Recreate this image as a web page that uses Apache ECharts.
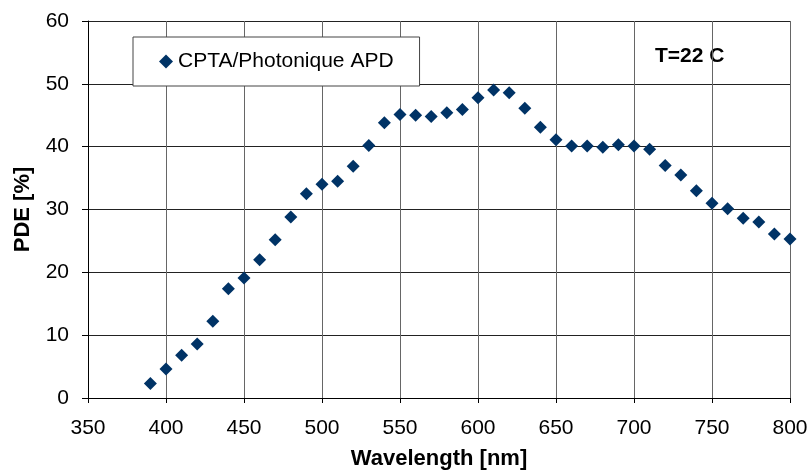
<!DOCTYPE html>
<html>
<head>
<meta charset="utf-8">
<script src="https://cdn.jsdelivr.net/npm/echarts@6/dist/echarts.min.js"></script>
<style>html,body{margin:0;padding:0;background:#fff}#c{width:812px;height:475px}</style>
</head>
<body>
<div id="c"></div>
<script>
var wavelengths = [390,400,410,420,430,440,450,460,470,480,490,500,510,520,530,540,550,560,570,580,590,600,610,620,630,640,650,660,670,680,690,700,710,720,730,740,750,760,770,780,790,800];
var pde = [2.3,4.6,6.8,8.6,12.2,17.4,19.1,22.0,25.2,28.8,32.5,34.0,34.5,36.9,40.2,43.8,45.1,45.0,44.8,45.4,45.9,47.8,49.0,48.6,46.1,43.1,41.1,40.1,40.1,39.9,40.3,40.1,39.6,37.0,35.5,33.0,31.0,30.1,28.6,28.0,26.1,25.3];
var seriesName = 'CPTA/Photonique APD';
var xTitle = 'Wavelength [nm]';
var yTitle = 'PDE [%]';
var note = 'T=22 C';

var chart = echarts.init(document.getElementById('c'), null, {renderer:'canvas'});
var font = '"Liberation Sans", Arial, sans-serif';
chart.setOption({
  animation:false,
  backgroundColor:'#ffffff',
  grid:{left:88,right:22,top:21,bottom:72,containLabel:false,show:false},
  legend:{
    show:true,
    left:133, top:37,
    padding:[14,26,14,26],
    borderColor:'#444', borderWidth:1,
    backgroundColor:'#fff',
    itemWidth:14, itemHeight:14,
    textStyle:{fontFamily:font,fontSize:21,color:'#000'},
    data:[{name:seriesName,icon:'diamond',itemStyle:{color:'#003366',opacity:1}}]
  },
  xAxis:{
    type:'value', min:350, max:800, interval:50,
    name:xTitle, nameLocation:'middle', nameGap:50,
    nameTextStyle:{fontFamily:font,fontSize:22,fontWeight:'bold',color:'#000'},
    axisLine:{show:true,lineStyle:{color:'#000',width:1}},
    axisTick:{show:true,length:5,lineStyle:{color:'#000'}},
    axisLabel:{fontFamily:font,fontSize:21,color:'#000',margin:20},
    splitLine:{show:true,lineStyle:{color:'#666',width:1}}
  },
  yAxis:{
    type:'value', min:0, max:60, interval:10,
    name:yTitle, nameLocation:'middle', nameGap:54,
    nameTextStyle:{fontFamily:font,fontSize:22,fontWeight:'bold',color:'#000'},
    axisLine:{show:true,lineStyle:{color:'#000',width:1}},
    axisTick:{show:true,length:6,lineStyle:{color:'#000'}},
    axisLabel:{fontFamily:font,fontSize:21,color:'#000',margin:19},
    splitLine:{show:true,lineStyle:{color:'#222',width:1}}
  },
  graphic:[{
    type:'text', left:655, top:46,
    style:{text:note,fontFamily:font,fontSize:21,fontWeight:'bold',fill:'#000'}
  }],
  series:[{
    name:seriesName, type:'scatter', symbol:'diamond', symbolSize:13,
    itemStyle:{color:'#003366',opacity:1},
    data:wavelengths.map(function(w,i){return [w,pde[i]];})
  }]
});
</script>
</body>
</html>
